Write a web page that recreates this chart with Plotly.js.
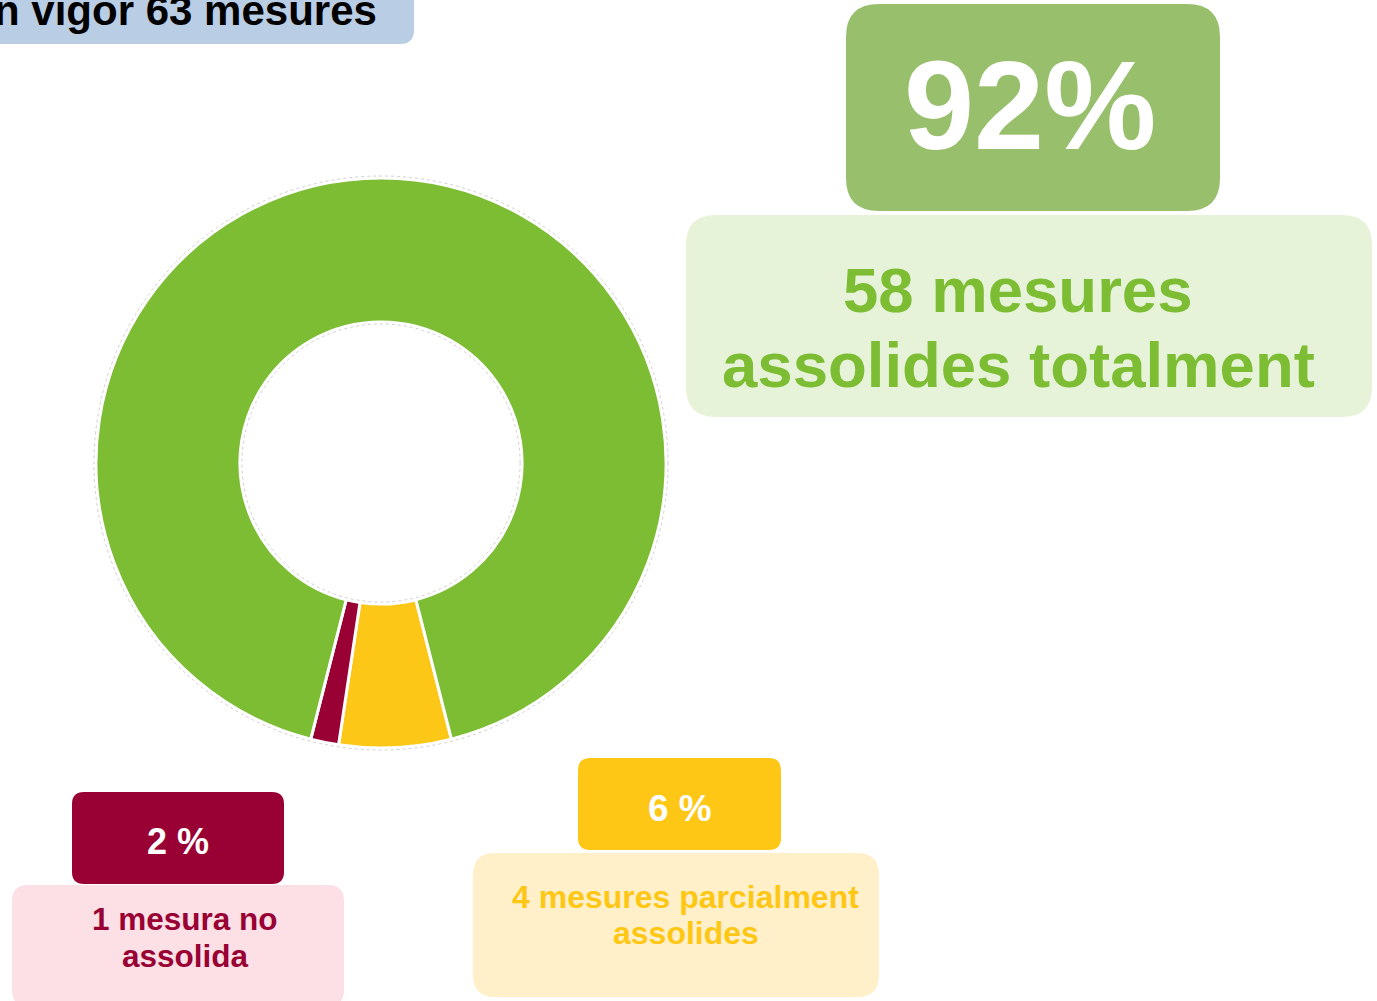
<!DOCTYPE html>
<html>
<head>
<meta charset="utf-8">
<script src="https://cdn.plot.ly/plotly-3.0.1.min.js"></script>
<style>html,body{margin:0;padding:0;background:#fff;}#chart{width:1377px;height:1001px;}</style>
</head>
<body>
<div id="chart"></div>
<script>
// ---- data ----
var categories = ['Parcialment assolides', 'No assolida', 'Assolides totalment'];
var values = [4, 1, 58];
var sliceColors = ['#fdc718', '#990033', '#7dbd33'];
var headerText = 'En vigor 63 mesures';
var pctLabels = ['6 %', '2 %', '92%'];
var descLines = [
  ['4 mesures parcialment', 'assolides'],
  ['1 mesura no', 'assolida'],
  ['58 mesures', 'assolides totalment']
];

// ---- helpers (pixel -> paper, margins are 0) ----
var W = 1377, H = 1001;
function px(x) { return x / W; }
function py(y) { return 1 - y / H; }
function rrect(x0, y0, x1, y1, r, fill) {
  var p = 'M' + px(x0 + r) + ',' + py(y0) +
    ' L' + px(x1 - r) + ',' + py(y0) +
    ' Q' + px(x1) + ',' + py(y0) + ' ' + px(x1) + ',' + py(y0 + r) +
    ' L' + px(x1) + ',' + py(y1 - r) +
    ' Q' + px(x1) + ',' + py(y1) + ' ' + px(x1 - r) + ',' + py(y1) +
    ' L' + px(x0 + r) + ',' + py(y1) +
    ' Q' + px(x0) + ',' + py(y1) + ' ' + px(x0) + ',' + py(y1 - r) +
    ' L' + px(x0) + ',' + py(y0 + r) +
    ' Q' + px(x0) + ',' + py(y0) + ' ' + px(x0 + r) + ',' + py(y0) + ' Z';
  return {type: 'path', xref: 'paper', yref: 'paper', path: p,
          fillcolor: fill, line: {width: 0}, layer: 'below'};
}
var FONT = 'Liberation Sans, Arial, sans-serif';
function txt(x, baseline, s, size, color, anchor) {
  return {xref: 'paper', yref: 'paper', x: px(x), y: py(baseline - 0.35 * size),
          xanchor: anchor || 'center', yanchor: 'middle', showarrow: false,
          text: '<b>' + s + '</b>', font: {family: FONT, size: size, color: color}};
}

var cx = 381, cy = 463, R = 285;

var trace = {
  type: 'pie',
  labels: categories,
  values: values,
  marker: {colors: sliceColors, line: {color: '#ffffff', width: 3}},
  hole: 0.495,
  sort: false,
  direction: 'clockwise',
  rotation: 165.7,
  textinfo: 'none',
  hoverinfo: 'label+value+percent',
  showlegend: false,
  domain: {x: [px(cx - R), px(cx + R)], y: [py(cy + R), py(cy - R)]}
};

var shapes = [
  rrect(-40, -30, 414, 44, 14, '#b9cde5'),
  rrect(846, 4, 1220, 211, 33, '#98bf6b'),
  rrect(686, 215, 1372, 417, 30, '#e6f3d9'),
  rrect(72, 792, 284, 884, 12, '#990033'),
  rrect(12, 885, 344, 1006, 16, '#fde0e6'),
  rrect(578, 758, 781, 850, 12, '#fec716'),
  rrect(473, 853, 879, 997, 22, '#fff0c9'),
  {type: 'circle', xref: 'paper', yref: 'paper', layer: 'above',
   x0: px(cx - R - 2), x1: px(cx + R + 2), y0: py(cy + R + 2), y1: py(cy - R - 2),
   line: {color: '#d0d0d0', width: 1, dash: 'dot'}, fillcolor: 'rgba(0,0,0,0)'},
  {type: 'circle', xref: 'paper', yref: 'paper', layer: 'above',
   x0: px(cx - 0.495 * R + 2), x1: px(cx + 0.495 * R - 2), y0: py(cy + 0.495 * R - 2), y1: py(cy - 0.495 * R + 2),
   line: {color: '#d0d0d0', width: 1, dash: 'dot'}, fillcolor: 'rgba(0,0,0,0)'}
];

var annotations = [
  txt(379, 25, headerText, 42, '#000000', 'right'),
  txt(1030, 150, pctLabels[2], 126, '#ffffff'),
  txt(1018, 312, descLines[2][0], 63.5, '#7dbd33'),
  txt(1018, 387, descLines[2][1], 63.5, '#7dbd33'),
  txt(178, 854, pctLabels[1], 36, '#ffffff'),
  txt(185, 930, descLines[1][0], 31.5, '#990033'),
  txt(185, 967, descLines[1][1], 31.5, '#990033'),
  txt(680, 821, pctLabels[0], 37, '#ffffff'),
  txt(685.5, 908, descLines[0][0], 32, '#fec716'),
  txt(685.5, 944, descLines[0][1], 32, '#fec716')
];

var layout = {
  width: W, height: H,
  margin: {l: 0, r: 0, t: 0, b: 0, pad: 0},
  paper_bgcolor: '#ffffff',
  plot_bgcolor: '#ffffff',
  showlegend: false,
  shapes: shapes,
  annotations: annotations,
  font: {family: FONT}
};

Plotly.newPlot('chart', [trace], layout, {displayModeBar: false, staticPlot: true});
</script>
</body>
</html>
